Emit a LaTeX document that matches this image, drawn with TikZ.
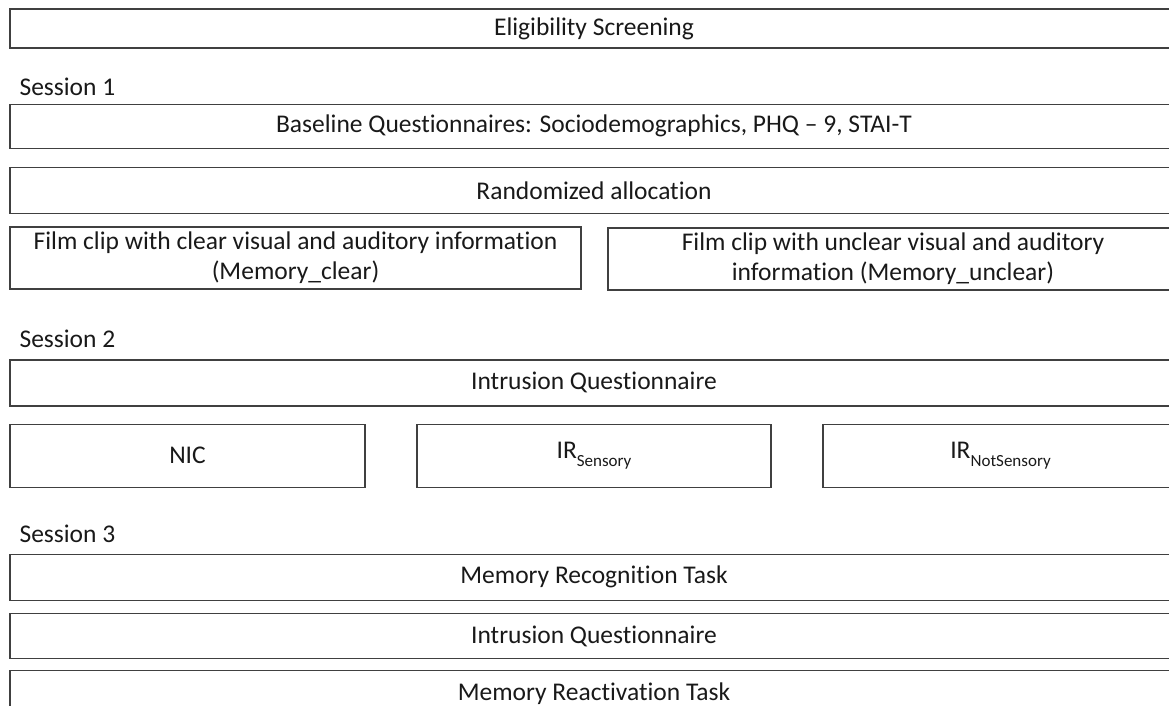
\documentclass[tikz,border=0pt]{standalone}
\usepackage{fontspec}
\setmainfont{Carlito}[RawFeature={-liga;-clig;-calt}]
\usetikzlibrary{positioning}

\newcommand{\irsub}[1]{\raisebox{-.32em}{\fontsize{17}{17}\selectfont #1}}

\begin{document}
\begin{tikzpicture}[x=1pt, y=-1pt,
        box/.style={draw=black!75, line width=1.3pt, minimum width=1168pt, minimum height=46pt,
          inner sep=0pt, align=center, text=black!90, font=\fontsize{25.5}{30}\selectfont},
        half/.style={box, minimum width=571pt, minimum height=62pt},
        cond/.style={box, minimum width=355pt, minimum height=63pt},
        lbl/.style={inner sep=0pt, text=black!90, font=\fontsize{25.5}{30}\selectfont}
      ]
        \useasboundingbox (0,0) rectangle (1169,706);
        \clip (0,0) rectangle (1169,706);
        \node[box, minimum height=39pt] (elig) at (594,28.5) {Eligibility Screening};
        % session 1
        \node[box, minimum height=44pt, below=55pt of elig] (base) {Baseline Questionnaires: Sociodemographics, PHQ -- 9, STAI-T};
        \node[lbl, above right=17pt and 10pt of base.north west, anchor=west] (s1) {Session 1};
        \node[box, below=18pt of base] (rand) {Randomized allocation};
        \node[half, below=12pt of rand.south west, anchor=north west] (clear) {Film clip with clear visual and auditory information\\(Memory\_clear)};
        \node[half, minimum width=570pt, below=13pt of rand.south east, anchor=north east] (unclear) {Film clip with unclear visual and auditory\\information (Memory\_unclear)};
        % session 2
        \node[box, below=145pt of rand] (intr) {Intrusion Questionnaire};
        \node[lbl, above right=20pt and 10pt of intr.north west, anchor=west] (s2) {Session 2};
        \node[cond, below=17pt of intr.south west, anchor=north west] (nic) {NIC};
        \node[cond, minimum width=354pt, below=17pt of intr] (irs) {IR\irsub{Sensory}};
        \node[cond, below=17pt of intr.south east, anchor=north east] (irns) {IR\irsub{NotSensory}};
        % session 3
        \node[box, below=147pt of intr] (rec) {Memory Recognition Task};
        \node[lbl, above right=20pt and 10pt of rec.north west, anchor=west] (s3) {Session 3};
        \node[box, minimum height=45pt, below=12pt of rec] (intr2) {Intrusion Questionnaire};
        \node[box, below=11pt of intr2] (react) {Memory Reactivation Task};
      \end{tikzpicture}
\end{document}
